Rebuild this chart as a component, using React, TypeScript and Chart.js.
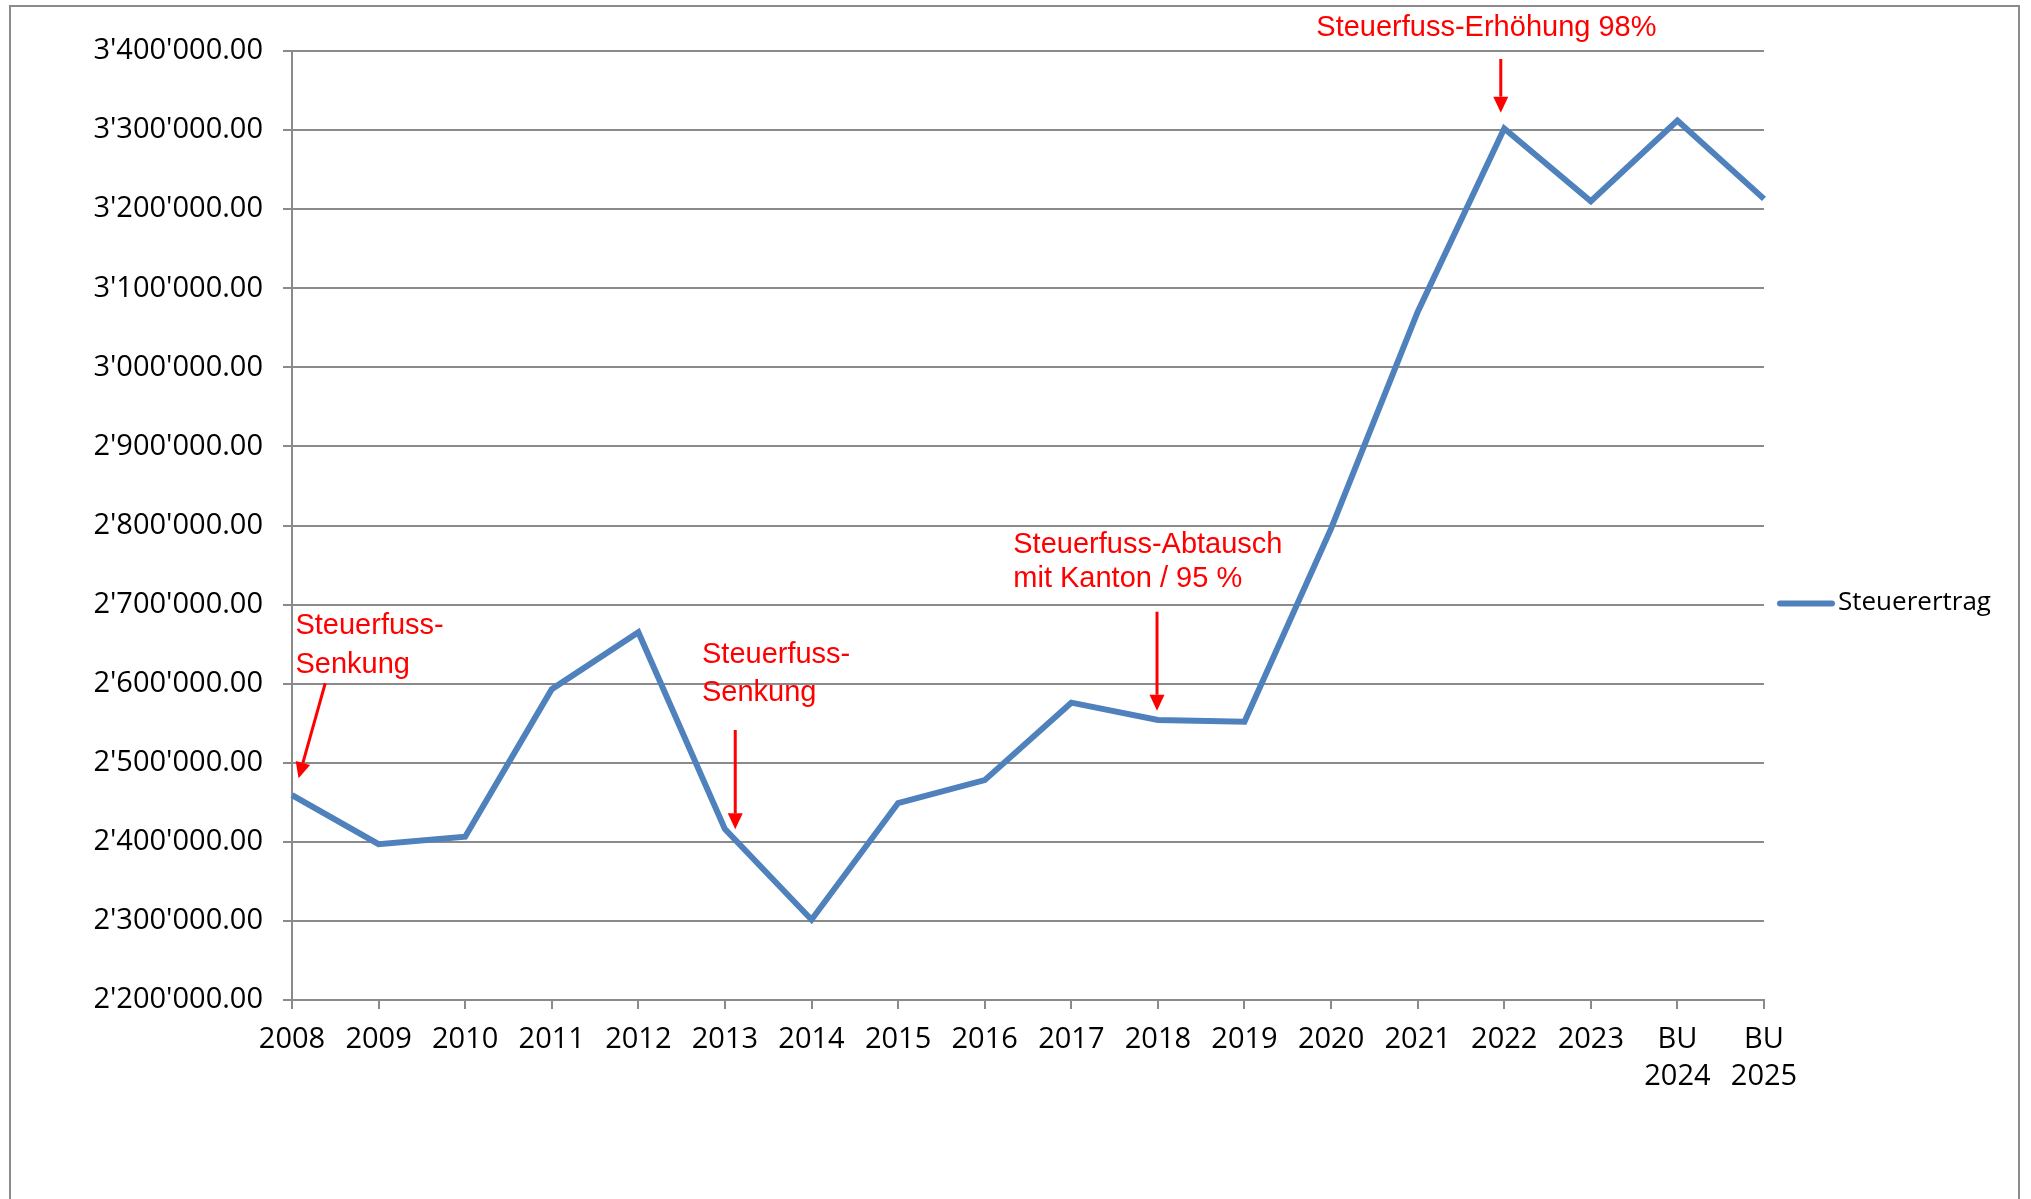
import React, { useEffect, useRef } from "react";
import { Chart, registerables } from "chart.js";

Chart.register(...registerables);

// ---------- data ----------
const categories: (string | string[])[] = [
  "2008", "2009", "2010", "2011", "2012", "2013", "2014", "2015", "2016",
  "2017", "2018", "2019", "2020", "2021", "2022", "2023",
  ["BU", "2024"], ["BU", "2025"],
];

const seriesLabel = "Steuerertrag";
const steuerertrag = [
  2459000, 2397000, 2406500, 2593000, 2665000, 2416000, 2301500, 2449000, 2478000,
  2576000, 2554000, 2552000, 2796000, 3070000, 3302000, 3210000, 3312000, 3213000,
];

const yMin = 2200000;
const yMax = 3400000;
const yStep = 100000;

// annotation texts (anchored to category index / value space)
const noteTexts: string[][] = [
  ["Steuerfuss-", "Senkung"],
  ["Steuerfuss-", "Senkung"],
  ["Steuerfuss-Abtausch", "mit Kanton / 95 %"],
  ["Steuerfuss-Erhöhung 98%"],
];
const noteAnchors = [
  { idx: 0.04, baselines: [2662400, 2613900] },
  { idx: 4.735, baselines: [2625800, 2578100] },
  { idx: 8.33, baselines: [2764800, 2722200] },
  { idx: 11.83, baselines: [3419000] },
];
const arrowAnchors = [
  { fromIdx: 0.384, fromVal: 2600500, toIdx: 0.076, toVal: 2480300 },
  { fromIdx: 5.119, fromVal: 2541400, toIdx: 5.119, toVal: 2415800 },
  { fromIdx: 9.99, fromVal: 2691000, toIdx: 9.99, toVal: 2565800 },
  { fromIdx: 13.96, fromVal: 3389900, toIdx: 13.96, toVal: 3322000 },
];

// ---------- styling ----------
const LINE_COLOR = "#4F81BD";
const GRID_COLOR = "#8a8a8a";
const RED = "#FF0000";
const AXIS_FONT = "'Open Sans', 'Noto Sans', sans-serif";
const NOTE_FONT = "'Liberation Sans', Arial, sans-serif";

function swiss(v: number): string {
  const [i, d] = Number(v).toFixed(2).split(".");
  return i.replace(/\B(?=(\d{3})+(?!\d))/g, "'") + "." + d;
}

function drawArrow(ctx: CanvasRenderingContext2D, x1: number, y1: number, x2: number, y2: number) {
  const headLen = 16;
  const headW = 15;
  const ang = Math.atan2(y2 - y1, x2 - x1);
  const bx = x2 - headLen * Math.cos(ang);
  const by = y2 - headLen * Math.sin(ang);
  ctx.strokeStyle = RED;
  ctx.fillStyle = RED;
  ctx.lineWidth = 3;
  ctx.beginPath();
  ctx.moveTo(x1, y1);
  ctx.lineTo(bx, by);
  ctx.stroke();
  const px = Math.sin(ang) * headW / 2;
  const py = -Math.cos(ang) * headW / 2;
  ctx.beginPath();
  ctx.moveTo(x2, y2);
  ctx.lineTo(bx + px, by + py);
  ctx.lineTo(bx - px, by - py);
  ctx.closePath();
  ctx.fill();
}

const decorPlugin = {
  id: "decor",
  beforeDraw(chart: any) {
    const ctx: CanvasRenderingContext2D = chart.ctx;
    ctx.save();
    ctx.fillStyle = "#ffffff";
    ctx.fillRect(0, 0, chart.width, chart.height);
    ctx.strokeStyle = "#8c8c8c";
    ctx.lineWidth = 2;
    ctx.strokeRect(10, 6, 2009, chart.height + 40);
    ctx.restore();
  },
  afterDraw(chart: any) {
    const ctx: CanvasRenderingContext2D = chart.ctx;
    const xs = chart.scales.x;
    const ys = chart.scales.y;
    const x0 = xs.getPixelForValue(0);
    const step = xs.getPixelForValue(1) - x0;
    const px = (idx: number) => x0 + idx * step;
    const py = (v: number) => ys.getPixelForValue(v);
    ctx.save();
    // annotations
    ctx.font = `29px ${NOTE_FONT}`;
    ctx.fillStyle = RED;
    ctx.textAlign = "left";
    ctx.textBaseline = "alphabetic";
    noteTexts.forEach((lines, i) => {
      const a = noteAnchors[i];
      lines.forEach((t, j) => {
        ctx.fillText(t, px(a.idx), py(a.baselines[j]));
      });
    });
    arrowAnchors.forEach((a) => {
      drawArrow(ctx, px(a.fromIdx), py(a.fromVal), px(a.toIdx), py(a.toVal));
    });
    // legend
    const ds = chart.data.datasets[0];
    const area = chart.chartArea;
    const ly = (chart.height) / 2 + 4;
    ctx.strokeStyle = ds.borderColor;
    ctx.lineWidth = 6;
    ctx.lineCap = "round";
    ctx.beginPath();
    ctx.moveTo(area.right + 16, ly);
    ctx.lineTo(area.right + 68, ly);
    ctx.stroke();
    ctx.fillStyle = "#000000";
    ctx.font = `26px ${AXIS_FONT}`;
    ctx.textBaseline = "middle";
    ctx.fillText(ds.label, area.right + 74, ly - 1);
    ctx.restore();
  },
};

export default function App() {
  const ref = useRef<HTMLCanvasElement | null>(null);

  useEffect(() => {
    document.body.style.margin = "0";
    const canvas = ref.current;
    if (!canvas) return;
    const chart = new Chart(canvas, {
      type: "line",
      data: {
        labels: categories,
        datasets: [
          {
            label: seriesLabel,
            data: steuerertrag,
            borderColor: LINE_COLOR,
            backgroundColor: LINE_COLOR,
            borderWidth: 6,
            pointRadius: 0,
            tension: 0,
            fill: false,
          },
        ],
      },
      options: {
        animation: false,
        responsive: false,
        devicePixelRatio: 1,
        layout: { padding: { top: 51, right: 267, bottom: 0, left: 0 } },
        plugins: {
          legend: { display: false },
          tooltip: { enabled: false },
        },
        scales: {
          x: {
            type: "category",
            offset: false,
            grid: {
              drawOnChartArea: false,
              drawTicks: true,
              tickLength: 9,
              color: GRID_COLOR,
              lineWidth: 2,
            },
            border: { display: true, color: GRID_COLOR, width: 2 },
            ticks: {
              font: { family: AXIS_FONT, size: 29, lineHeight: 1.28 },
              color: "#000000",
              padding: 12,
              maxRotation: 0,
              autoSkip: false,
            },
            afterFit: (s: any) => {
              s.height = 199;
            },
          },
          y: {
            min: yMin,
            max: yMax,
            ticks: {
              stepSize: yStep,
              callback: (v: any) => swiss(Number(v)),
              font: { family: AXIS_FONT, size: 29 },
              color: "#000000",
              padding: 20,
            },
            grid: { color: GRID_COLOR, lineWidth: 2, tickLength: 9 },
            border: { display: true, color: GRID_COLOR, width: 2 },
            afterFit: (s: any) => {
              s.width = 292;
            },
          },
        },
      },
      plugins: [decorPlugin],
    });
    return () => chart.destroy();
  }, []);

  return (
    <div style={{ position: "fixed", left: 0, top: 0, width: 2031, height: 1199, background: "#fff" }}>
      <canvas ref={ref} width={2031} height={1199} style={{ display: "block", width: 2031, height: 1199 }} />
    </div>
  );
}
